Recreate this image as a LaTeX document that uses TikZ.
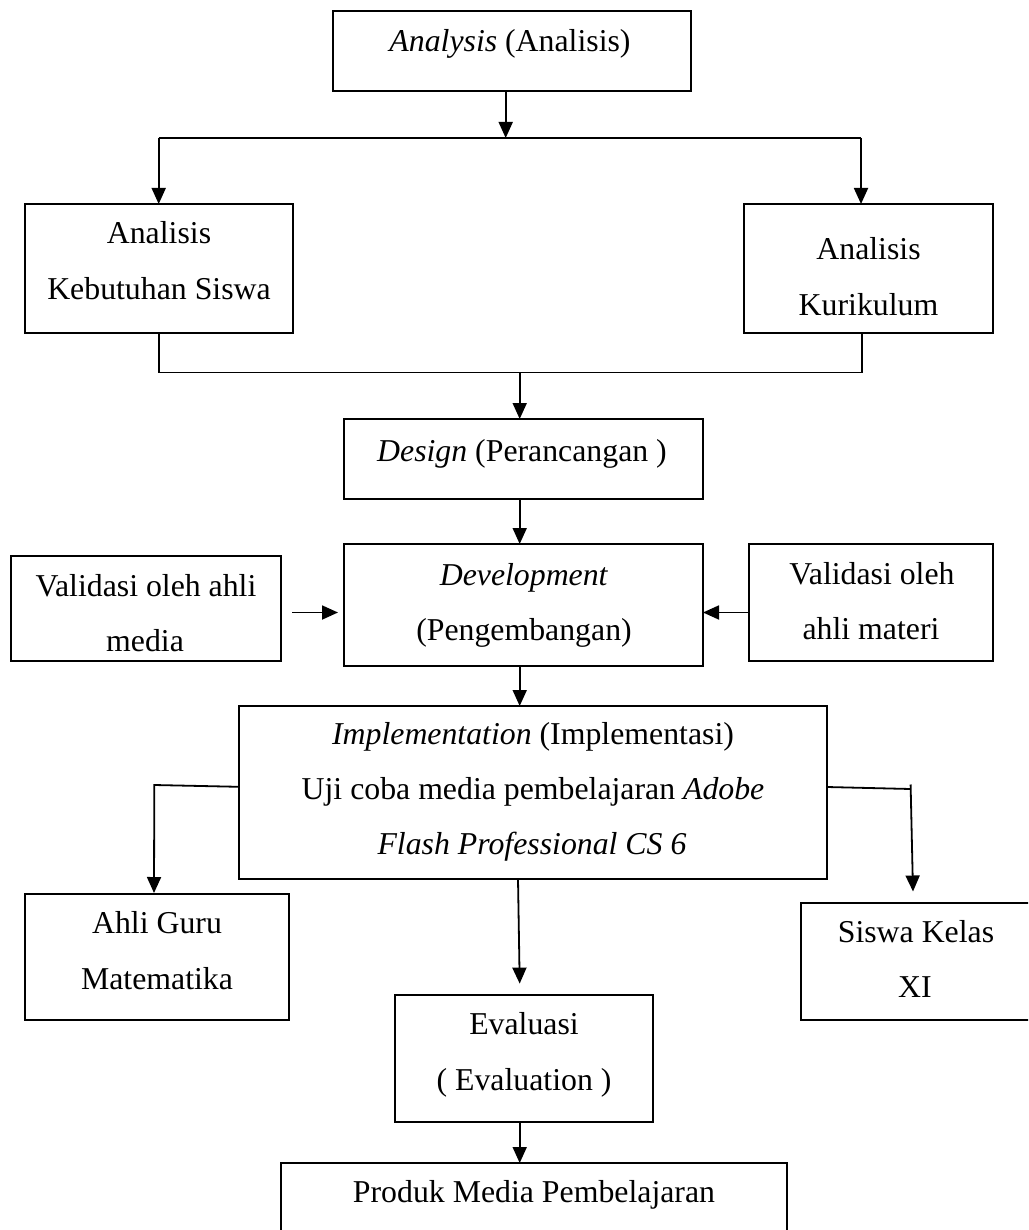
\documentclass[tikz,border=0pt]{standalone}
\usepackage{fontspec}
\setmainfont{Liberation Serif}
\usetikzlibrary{arrows.meta}
\begin{document}
\begin{tikzpicture}[x=1pt,y=-1pt,
  box/.style={draw,line width=2pt,inner sep=0pt,outer sep=0pt},
  txt/.style={anchor=base,inner sep=0pt,outer sep=0pt,font=\fontsize{31.8}{38}\selectfont},
  conn/.style={line width=1.8pt},
  arr/.style={conn,-{Triangle[length=16pt,width=14pt]}}]
\useasboundingbox (0,0) rectangle (1028,1230);
\clip (0,0) rectangle (1028,1230);
% boxes
\node[box,minimum width=358pt,minimum height=80.5pt] (ana) at (512,51.25) {};
\node[box,minimum width=268pt,minimum height=129pt] (keb) at (158.7,268.5) {};
\node[box,minimum width=249pt,minimum height=129pt] (kur) at (868.5,268.5) {};
\node[box,minimum width=359pt,minimum height=80pt] (des) at (523.5,459) {};
\node[box,minimum width=359pt,minimum height=122pt] (dev) at (523.5,605) {};
\node[box,minimum width=270.3pt,minimum height=105pt] (vme) at (145.85,608.5) {};
\node[box,minimum width=244.3pt,minimum height=117pt] (vma) at (870.85,602.5) {};
\node[box,minimum width=588.3pt,minimum height=173pt] (imp) at (532.85,792.5) {};
\node[box,minimum width=264.6pt,minimum height=126pt] (guru) at (157,957) {};
\node[box,minimum width=231pt,minimum height=117pt] (sis) at (916.5,961.5) {};
\node[box,minimum width=258.3pt,minimum height=127pt] (eva) at (523.85,1058.5) {};
\node[box,minimum width=506pt,minimum height=87pt] (pro) at (534,1206.5) {};
% texts
\node[txt] (tana) at (510,52) {\textit{Analysis} (Analisis)};
\node[txt] (tkeb1) at (159,244) {Analisis};
\node[txt] (tkeb2) at (159,300) {Kebutuhan Siswa};
\node[txt] (tkur1) at (868.5,259.6) {Analisis};
\node[txt] (tkur2) at (868.5,315.7) {Kurikulum};
\node[txt] (tdes) at (522,461) {\textit{Design} (Perancangan )};
\node[txt] (tdev1) at (524,585) {\textit{Development}};
\node[txt] (tdev2) at (524,640) {(Pengembangan)};
\node[txt] (tvme1) at (146,596) {Validasi oleh ahli};
\node[txt] (tvme2) at (145,651) {media};
\node[txt] (tvma1) at (872,584) {Validasi oleh};
\node[txt] (tvma2) at (871,639) {ahli materi};
\node[txt] (timp1) at (533,744) {\textit{Implementation} (Implementasi)};
\node[txt] (timp2) at (533,799) {Uji coba media pembelajaran \textit{Adobe}};
\node[txt] (timp3) at (532,854) {\textit{Flash Professional CS 6}};
\node[txt] (tguru1) at (157,933.4) {Ahli Guru};
\node[txt] (tguru2) at (157,989.5) {Matematika};
\node[txt] (tsis1) at (916,942.5) {Siswa Kelas};
\node[txt] (tsis2) at (915,997.5) {XI};
\node[txt] (teva1) at (524,1034.6) {Evaluasi};
\node[txt] (teva2) at (524,1090.7) {( Evaluation )};
\node[txt] (tpro) at (534,1202) {Produk Media Pembelajaran};
% connectors
\coordinate (s0) at (505.7,138);
\coordinate (sL) at (158.7,138);
\coordinate (sR) at (861,138);
\draw[arr] (ana.south -| s0) -- (s0);
\draw[conn] (sL) -- (sR);
\draw[arr] (sL) -- (keb.north);
\draw[arr] (sR) -- (kur.north -| sR);
\coordinate (jL) at (158.7,372.5);
\coordinate (jR) at (862,372.5);
\coordinate (jM) at (519.7,372.5);
\draw[conn] (keb.south) -- (jL) -- (jR) -- (kur.south -| jR);
\draw[arr] (jM) -- (des.north -| jM);
\draw[arr] (des.south -| jM) -- (dev.north -| jM);
\coordinate (mY) at (0,612.5);
\draw[arr,shorten <=11pt,shorten >=6pt] (vme.east |- mY) -- (dev.west |- mY);
\draw[arr] (vma.west |- mY) -- (dev.east |- mY);
\draw[arr] (dev.south -| jM) -- (imp.north -| jM);
\coordinate (iL) at (154.3,785);
\coordinate (gT) at (154,893);
\draw[arr] ([yshift=5.7pt]imp.west) -- (iL) -- (gT);
\coordinate (iR) at (910.7,789);
\coordinate (iRt) at (910.6,784.5);
\coordinate (sT) at (913,891.5);
\draw[conn] ([yshift=5.5pt]imp.east) -- (iR);
\draw[arr] (iRt) -- (sT);
\coordinate (eT) at (519.7,983.6);
\draw[arr] ([xshift=-14.85pt]imp.south) -- (eT);
\draw[arr] (eva.south -| jM) -- (pro.north -| jM);
\end{tikzpicture}
\end{document}
